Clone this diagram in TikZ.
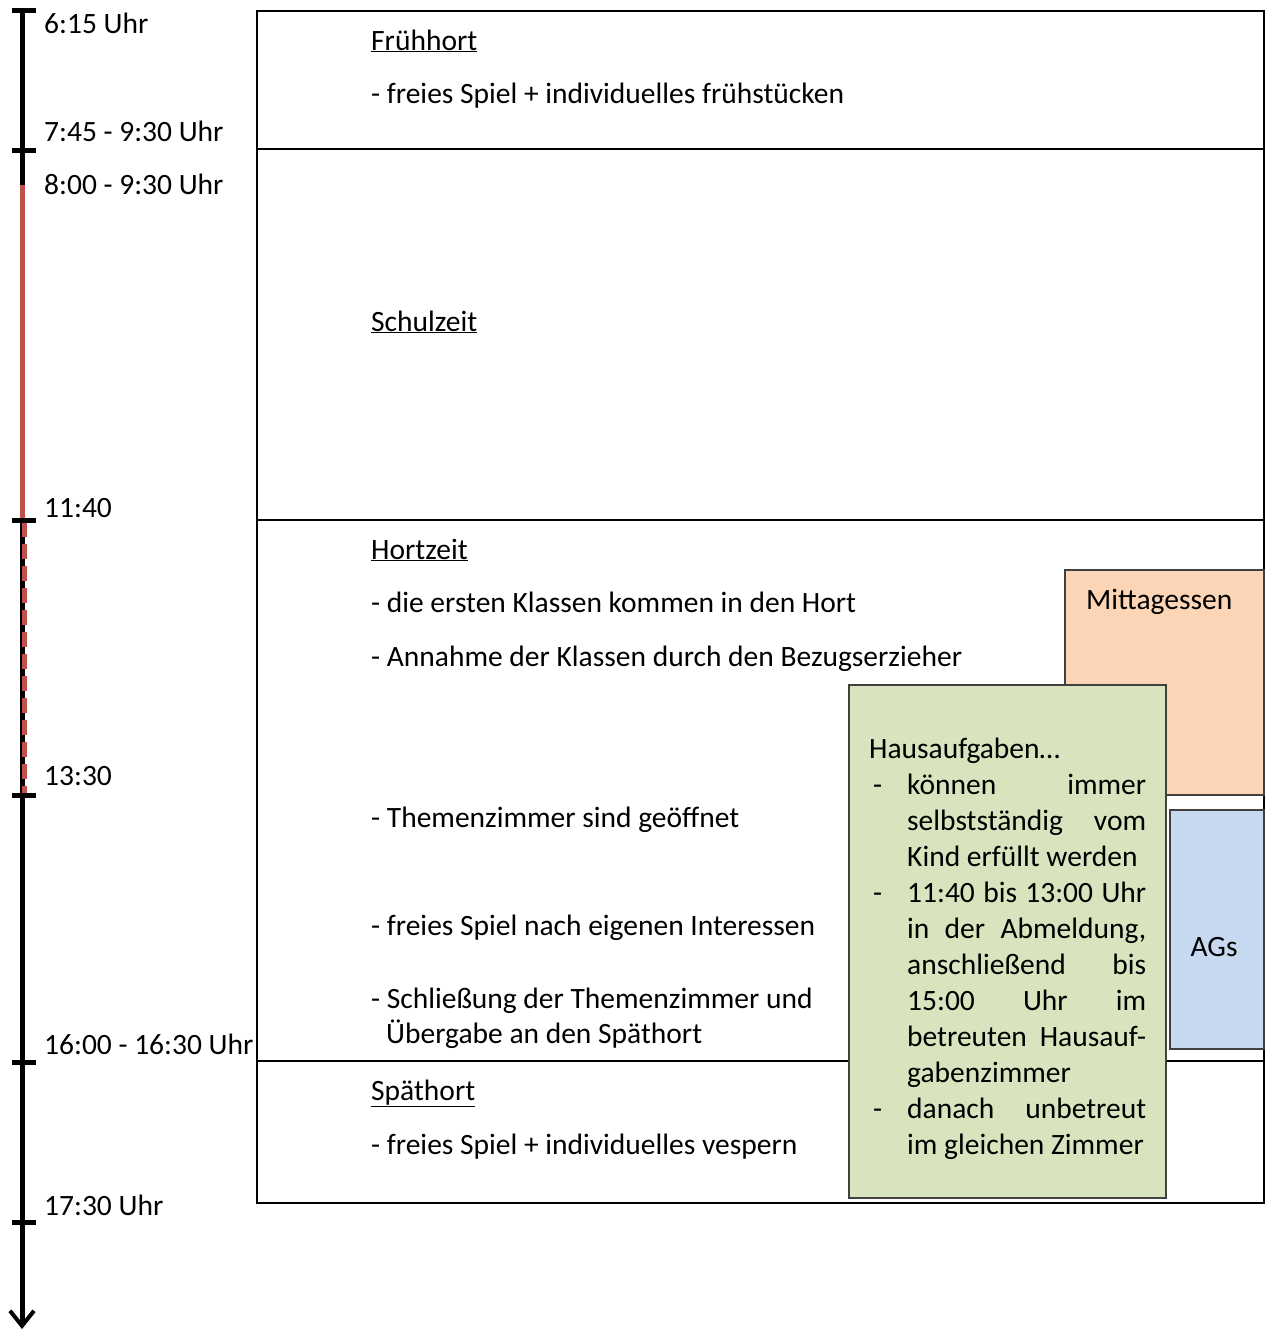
\documentclass[tikz,border=0pt]{standalone}
\usepackage{fontspec}
\setmainfont{Carlito}
\usepackage{tikz}
\usetikzlibrary{arrows.meta}

\definecolor{peach}{HTML}{FBD5B5}
\definecolor{lightblue}{HTML}{C6D9F1}
\definecolor{lightgreen}{HTML}{D7E4BD}
\definecolor{timered}{HTML}{C0504D}

% one line of the Hausaufgaben box: dash column + justified text
\newcommand\hwline[2]{\makebox[38pt][l]{\hspace{4pt}#1}\makebox[239pt][s]{#2}}
\newcommand\hwlast[2]{\makebox[38pt][l]{\hspace{4pt}#1}\makebox[239pt][l]{#2}}

\begin{document}
\begin{tikzpicture}[
            x=1pt, y=-1pt,
            every node/.style={inner sep=0pt, font=\fontsize{29.5}{36}\selectfont}, % Calibri 12pt look
            rowbox/.style={draw=black, line width=2pt},
            colbox/.style={draw=black!75, line width=1.3pt},
            timelabel/.style={anchor=base west},
            itemtext/.style={anchor=base west}
            ]

        \useasboundingbox (0,0) rectangle (1265,1331);

        % rows of the day plan
        \draw[rowbox] (257,11) rectangle (1264,149);
        \draw[rowbox] (257,149) rectangle (1264,520);
        \draw[rowbox] (257,520) rectangle (1264,1061);
        \draw[rowbox] (257,1061) rectangle (1264,1203);

        % time axis
        \coordinate (axtop) at (22,10);
        \coordinate (axend) at (22,1329);
        \draw[line width=5pt, -{Straight Barb[length=15pt, width=24pt, line width=4pt]}] (axtop) -- (axend);
        \draw[timered, line width=5pt] (22,185) -- (22,520);
        \draw[timered, line width=5pt, dash pattern=on 15pt off 7pt] (24,522) -- (24,795);
        \foreach \ty in {10,150,520,795,1062,1222}
            \draw[line width=5pt] (12,\ty) -- (36,\ty);

        \node[timelabel] (t615) at (44,33) {6:15 Uhr};
        \node[timelabel] (t745) at (44,141) {7:45 - 9:30 Uhr};
        \node[timelabel] (t800) at (44,194) {8:00 - 9:30 Uhr};
        \node[timelabel] (t1140) at (44,517) {11:40};
        \node[timelabel] (t1330) at (44,785) {13:30};
        \node[timelabel] (t1600) at (44,1054) {16:00 - 16:30 Uhr};
        \node[timelabel] (t1730) at (44,1215) {17:30 Uhr};

        % Frühhort
        \node[itemtext] (fruehhead) at (371,50) {\underline{Frühhort}};
        \node[itemtext] (fruehspiel) at (371,103) {- freies Spiel + individuelles frühstücken};

        % Schulzeit
        \node[itemtext] (schulhead) at (371,331) {\underline{Schulzeit}};

        % Hortzeit
        \node[itemtext] (horthead) at (371,559) {\underline{Hortzeit}};
        \node[itemtext] (hortklassen) at (371,612) {- die ersten Klassen kommen in den Hort};
        \node[itemtext] (hortannahme) at (371,666) {- Annahme der Klassen durch den Bezugserzieher};
        \node[itemtext] (hortthemen) at (371,827) {- Themenzimmer sind geöffnet};
        \node[itemtext] (hortspiel) at (371,935) {- freies Spiel nach eigenen Interessen};
        \node[itemtext] (hortschluss) at (371,1008) {- Schließung der Themenzimmer und};
        \node[itemtext] (hortuebergabe) at (386,1043) {Übergabe an den Späthort};

        % Späthort
        \node[itemtext] (spaethead) at (371,1100) {\underline{Späthort}};
        \node[itemtext] (spaetspiel) at (371,1154) {- freies Spiel + individuelles vespern};

        % side boxes
        \draw[colbox, fill=peach] (1065,570) rectangle (1264,795);
        \node[itemtext] (mittag) at (1086,609) {Mittagessen};
        \draw[colbox, fill=lightblue] (1170,810) rectangle (1264,1049);
        \node[anchor=base] (ags) at (1214,956) {AGs};
        \draw[colbox, fill=lightgreen] (849,685) rectangle (1166,1198);
        \node[anchor=base west] (hausaufgaben) at (869,758) {%
            \begin{tabular}[t]{@{}l@{}}
            Hausaufgaben…\\
            \hwline{-}{können immer}\\
            \hwline{}{selbstständig vom}\\
            \hwlast{}{Kind erfüllt werden}\\
            \hwline{-}{11:40 bis 13:00 Uhr}\\
            \hwline{}{in der Abmeldung,}\\
            \hwline{}{anschließend bis}\\
            \hwline{}{15:00 Uhr im}\\
            \hwline{}{betreuten Hausauf-}\\
            \hwlast{}{gabenzimmer}\\
            \hwline{-}{danach unbetreut}\\
            \hwlast{}{im gleichen Zimmer}
            \end{tabular}};

    \end{tikzpicture}
\end{document}
